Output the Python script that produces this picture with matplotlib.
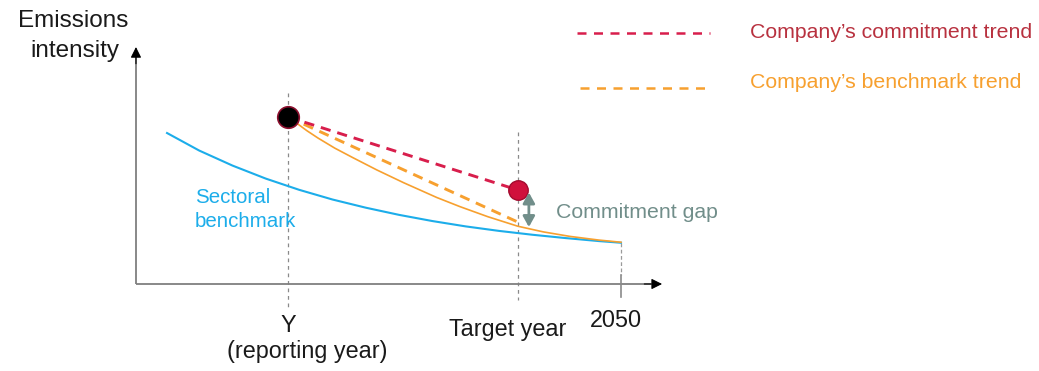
import matplotlib
matplotlib.use("Agg")
import matplotlib.pyplot as plt

plt.rcParams['font.family'] = ['Liberation Sans', 'DejaVu Sans']

# ---- data (schematic values) ----
reporting_year = 2020.0
target_year = 2040.7
final_year = 2050.0

sector_years = [2009.1, 2012, 2015, 2018, 2021, 2024, 2027, 2030, 2033, 2036, 2039, 2042, 2045, 2048, 2050]
sector_vals = [90.4, 79.9, 70.9, 63.1, 56.4, 50.6, 45.7, 41.4, 37.7, 34.5, 31.8, 29.5, 27.5, 25.7, 24.7]

bench_years = [2020, 2020.4, 2020.8, 2021.7, 2022.7, 2024.2, 2025.8, 2028, 2030.4, 2033.4, 2035.5, 2038, 2040.7, 2043, 2045.4, 2048, 2050]
bench_vals = [100, 98.2, 96.2, 91.8, 87.4, 81.4, 75.8, 68.3, 60.7, 51.8, 46.3, 40.3, 34.6, 31.2, 28.5, 26.3, 25.0]

start_val = 100.0          # reporting-year intensity
commit_target_val = 56.3   # commitment at target year
bench_target_val = 37.1    # benchmark trend at target year

tick_positions = [reporting_year, target_year, final_year]
tick_labels = ["Y\n(reporting year)", "Target year", "2050"]

RED = "#d81e4c"
RED_TXT = "#b8313f"
ORANGE = "#f7a02f"
BLUE = "#1cadea"
GAP = "#718e8a"
AXIS = "#7f7f7f"

fig = plt.figure(figsize=(10.39, 3.71), dpi=100)
ax = fig.add_axes([0, 0, 1, 1])
ax.set_xlim(1994.05, 2087.66)
ax.set_ylim(-52.1, 170.06)
ax.axis("off")

x0, y0 = 2006.3, 0.0
x_end, y_end = 2053.7, 141.9

# axes lines
ax.plot([x0, x_end - 1.0], [y0, y0], color=AXIS, lw=1.3, solid_capstyle="butt", zorder=2)
ax.plot([x0, x0], [y0, y_end - 6], color=AXIS, lw=1.3, solid_capstyle="butt", zorder=2)
ax.annotate("", xy=(x_end, y0), xytext=(x_end - 1.6, y0),
            arrowprops=dict(arrowstyle="-|>", color="black", lw=0.8, mutation_scale=16,
                            shrinkA=0, shrinkB=0), zorder=3)
ax.annotate("", xy=(x0, y_end), xytext=(x0, y_end - 10),
            arrowprops=dict(arrowstyle="-|>", color="black", lw=0.8, mutation_scale=16,
                            shrinkA=0, shrinkB=0), zorder=3)

# vertical guide lines
ax.plot([reporting_year, reporting_year], [114.4, -15.6], color="#8a8a8a", lw=0.9,
        ls=(0, (3, 3)), zorder=1)
ax.plot([target_year, target_year], [91.0, -9.6], color="#8a8a8a", lw=0.9,
        ls=(0, (3, 3)), zorder=1)
ax.plot([final_year, final_year], [24.6, 5.4], color="#9a9a9a", lw=0.9,
        ls=(0, (3, 2)), zorder=1)
ax.plot([final_year, final_year], [5.4, -7.8], color="#8a8a8a", lw=1.2, zorder=2)

# curves
ax.plot(sector_years, sector_vals, color=BLUE, lw=1.5, zorder=4)
ax.plot(bench_years, bench_vals, color=ORANGE, lw=1.2, zorder=4)

# dashed trends
ax.plot([reporting_year, target_year], [start_val, bench_target_val], color=ORANGE,
        lw=2.1, dashes=(3.5, 2.4), zorder=5)
ax.plot([reporting_year, target_year], [start_val, commit_target_val], color=RED,
        lw=2.1, dashes=(3.5, 2.4), zorder=5)

# dots
ax.plot([reporting_year], [start_val], marker="o", ms=15.5, color="black",
        mec="#8c0f2e", mew=1.2, zorder=7)
ax.plot([target_year], [commit_target_val], marker="o", ms=14.0, color="#d0103c",
        mec="#a30a2e", mew=1.0, zorder=7)

# commitment gap arrow
gap_x = target_year + 1.0
ax.annotate("", xy=(gap_x, commit_target_val - 1.5), xytext=(gap_x, bench_target_val - 3.0),
            arrowprops=dict(arrowstyle="<|-|>,head_length=0.45,head_width=0.25", color=GAP,
                            lw=2.0, mutation_scale=14, shrinkA=0, shrinkB=0), zorder=8)

# texts
ax.text(2000.63, 157.5, "Emissions", ha="center", va="center", fontsize=17.5, color="#1a1a1a")
ax.text(2000.8, 139.5, "intensity", ha="center", va="center", fontsize=17.5, color="#1a1a1a")
ax.text(2011.6, 51.5, "Sectoral", ha="left", va="center", fontsize=14.8, color=BLUE)
ax.text(2011.6, 37.7, "benchmark", ha="left", va="center", fontsize=14.8, color=BLUE)
ax.text(2044.1, 43.1, "Commitment gap", ha="left", va="center", fontsize=15.3, color=GAP)

# legend
ax.plot([2046.0, 2058.0], [150.3, 150.3], color=RED, lw=1.8, dashes=(3.6, 3.0))
ax.plot([2046.3, 2058.2], [117.4, 117.4], color=ORANGE, lw=1.8, dashes=(3.6, 3.0))
ax.text(2061.6, 150.3, "Company\u2019s commitment trend", ha="left", va="center",
        fontsize=15.3, color=RED_TXT)
ax.text(2061.6, 120.4, "Company\u2019s benchmark trend", ha="left", va="center",
        fontsize=15.3, color=ORANGE)

# tick labels
ax.text(tick_positions[0], -24.6, tick_labels[0].split("\n")[0], ha="center", va="center",
        fontsize=16.8, color="#1a1a1a")
ax.text(tick_positions[0] + 1.7, -40.7, tick_labels[0].split("\n")[1], ha="center", va="center",
        fontsize=16.8, color="#1a1a1a")
ax.text(tick_positions[1] - 0.9, -27.5, tick_labels[1], ha="center", va="center",
        fontsize=16.8, color="#1a1a1a")
ax.text(tick_positions[2] - 0.5, -21.6, tick_labels[2], ha="center", va="center",
        fontsize=16.8, color="#1a1a1a")

fig.savefig("out.png", dpi=100)
